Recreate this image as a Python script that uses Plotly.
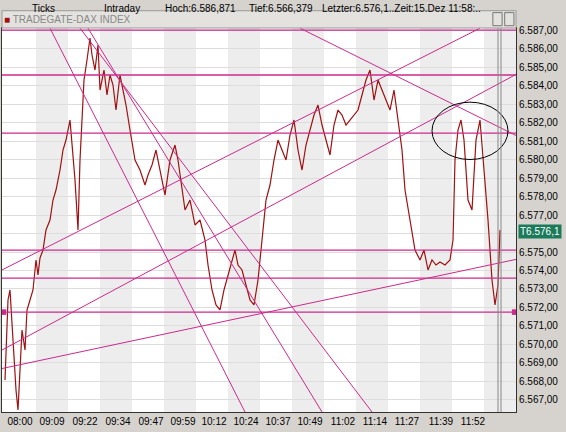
import plotly.graph_objects as go

# price path, x in tick-index units, price in index points
tick_x = [5, 8, 10, 13, 16, 18, 20, 22, 25, 27, 30, 33, 36, 38, 40, 43, 46, 50, 53, 56, 60, 63, 66, 70, 75, 78, 80, 84, 87, 90,
          92, 95, 98, 100, 104, 107, 110, 113, 116, 120, 123, 126, 130, 135, 140, 145, 148, 152, 156, 160, 165, 170, 175, 178,
          182, 185, 190, 195, 200, 205, 208, 212, 216, 220, 224, 228, 232, 235, 238, 242, 246, 250, 254, 258, 262, 266, 270,
          274, 278, 282, 286, 290, 294, 298, 302, 306, 310, 314, 318, 322, 326, 330, 334, 338, 342, 346, 350, 354, 358, 362,
          366, 370, 374, 378, 382, 386, 390, 394, 398, 402, 405, 410, 415, 420, 424, 428, 432, 436, 440, 445, 450, 453, 455,
          458, 461, 464, 468, 472, 476, 480, 484, 488, 492, 495, 498, 500]
tick_px = [380, 300, 290, 340, 390, 410, 370, 330, 350, 310, 300, 290, 260, 275, 258, 250, 230, 220, 200, 190, 170, 150, 140,
           120, 180, 230, 160, 80, 60, 38, 55, 70, 45, 90, 70, 95, 75, 85, 110, 75, 90, 105, 130, 160, 170, 185, 175, 165, 150,
           170, 195, 160, 145, 160, 190, 210, 200, 225, 220, 240, 265, 290, 305, 310, 290, 275, 260, 250, 265, 270, 285, 300,
           305, 280, 240, 200, 185, 160, 140, 150, 160, 135, 120, 150, 170, 145, 130, 115, 105, 125, 140, 155, 125, 110, 115,
           125, 120, 115, 110, 95, 80, 70, 100, 80, 90, 100, 110, 90, 120, 150, 190, 220, 250, 260, 250, 270, 260, 265, 262,
           265, 260, 240, 160, 130, 120, 140, 200, 210, 140, 120, 170, 220, 280, 305, 285, 230]
price = [6587 - (p - 30) / 18.5 for p in tick_px]

time_pos = [20, 52, 85, 118, 151, 183, 214, 246, 278, 310, 343, 375, 407, 441, 473]
time_labels = ["08:00", "09:09", "09:22", "09:34", "09:47", "09:59", "10:12", "10:24", "10:37", "10:49",
               "11:02", "11:14", "11:27", "11:39", "11:52"]
grid_x = [36, 68, 100, 132, 164, 196, 228, 260, 292, 324, 356, 388, 420, 452, 484]
price_ticks = list(range(6567, 6588))
price_labels = ["" if v == 6576 else "6.%03d,00" % (v - 6000) for v in price_ticks]

# trendlines drawn on the chart (x0, y0, x1, y1) in price terms
h_levels = [6587.0, 6584.57, 6581.43, 6575.1, 6573.59, 6571.75]
diag_lines = [
    (50, 6587.1, 245, 6566.35),
    (80, 6587.1, 372, 6566.35),
    (88, 6587.1, 322, 6566.35),
    (2, 6574.03, 480, 6587.1),
    (2, 6569.7, 516, 6584.6),
    (2, 6568.7, 516, 6574.6),
    (300, 6587.1, 516, 6581.3),
]

PINK = "#cc2a8c"
fig = go.Figure()
shapes = []
for i, gx in enumerate(grid_x):
    if i % 2 == 0:
        shapes.append(dict(type="rect", xref="x", yref="paper", x0=gx, x1=gx + 32, y0=0, y1=1,
                           fillcolor="#ededed", line_width=0, layer="below"))
for lv in h_levels:
    shapes.append(dict(type="line", xref="paper", yref="y", x0=0, x1=1, y0=lv, y1=lv,
                       line=dict(color=PINK, width=1.3)))
for x0, y0, x1, y1 in diag_lines:
    shapes.append(dict(type="line", xref="x", yref="y", x0=x0, y0=y0, x1=x1, y1=y1,
                       line=dict(color=PINK, width=1)))
shapes.append(dict(type="circle", xref="x", yref="y", x0=432, x1=508, y0=6580.0, y1=6583.1,
                   line=dict(color="black", width=1)))
for vx in (498, 501):
    shapes.append(dict(type="line", xref="x", yref="paper", x0=vx, x1=vx, y0=0, y1=1,
                       line=dict(color="#888", width=1)))
# title bar of the chart window
shapes.append(dict(type="rect", xref="paper", yref="paper", x0=0, x1=1, y0=1.0, y1=1.045,
                   fillcolor="#e4e2de", line=dict(color="#999", width=1)))
# window buttons in the title bar
for bx in (0.955, 0.978):
    shapes.append(dict(type="rect", xref="paper", yref="paper", x0=bx, x1=bx + 0.018, y0=1.006, y1=1.04,
                       fillcolor="#e4e2de", line=dict(color="#777", width=1)))
# markers of the support line at both edges
shapes.append(dict(type="rect", xref="paper", yref="y", x0=0, x1=0.008, y0=6571.6, y1=6571.9,
                   fillcolor=PINK, line_width=0))
shapes.append(dict(type="rect", xref="paper", yref="y", x0=0.992, x1=1.0, y0=6571.6, y1=6571.9,
                   fillcolor=PINK, line_width=0))

fig.add_trace(go.Scatter(x=tick_x, y=price, mode="lines", line=dict(color="#a01010", width=1.2),
                         hoverinfo="skip", showlegend=False))

fig.update_layout(
    width=566, height=432,
    margin=dict(l=2, r=50, t=28, b=20, pad=0, autoexpand=False),
    paper_bgcolor="#d6d3ce", plot_bgcolor="white",
    shapes=shapes,
    font=dict(family="Liberation Sans", size=10, color="black"),
    xaxis=dict(range=[2, 516], tickvals=time_pos, ticktext=time_labels, showgrid=False, tickangle=0,
               zeroline=False, ticks="", mirror=True, showline=True, linecolor="#333", automargin=False,
               tickfont=dict(size=10)),
    yaxis=dict(range=[6566.35, 6587.11], side="right", tickvals=price_ticks, ticktext=price_labels,
               showgrid=True, gridcolor="#dddddd", zeroline=False, ticks="", mirror=True, automargin=False,
               showline=True, linecolor="#333", tickfont=dict(size=10)),
    annotations=[
        dict(text="Ticks", xref="paper", yref="paper", x=0.054, y=1.07, showarrow=False, xanchor="left"),
        dict(text="Intraday", xref="paper", yref="paper", x=0.195, y=1.07, showarrow=False, xanchor="left"),
        dict(text="Hoch:6.586,871", xref="paper", yref="paper", x=0.313, y=1.07, showarrow=False, xanchor="left"),
        dict(text="Tief:6.566,379", xref="paper", yref="paper", x=0.477, y=1.07, showarrow=False, xanchor="left"),
        dict(text="Letzter:6.576,1..Zeit:15.Dez 11:58:..", xref="paper", yref="paper", x=0.619, y=1.07,
             showarrow=False, xanchor="left"),
        dict(text="<span style='color:#a01010'>■</span> TRADEGATE-DAX INDEX", xref="paper", yref="paper",
             x=0.0, y=1.022, yanchor="middle", showarrow=False, xanchor="left", font=dict(color="#888", size=10)),
        dict(text="T6.576,1", xref="paper", yref="y", x=1.003, y=6576.1, showarrow=False, xanchor="left",
             bgcolor="#1a7a5a", font=dict(color="white", size=10), borderpad=1),
    ],
)

fig.write_html("out.html", config={"displayModeBar": False},
               post_script="document.body.style.margin='0';")
